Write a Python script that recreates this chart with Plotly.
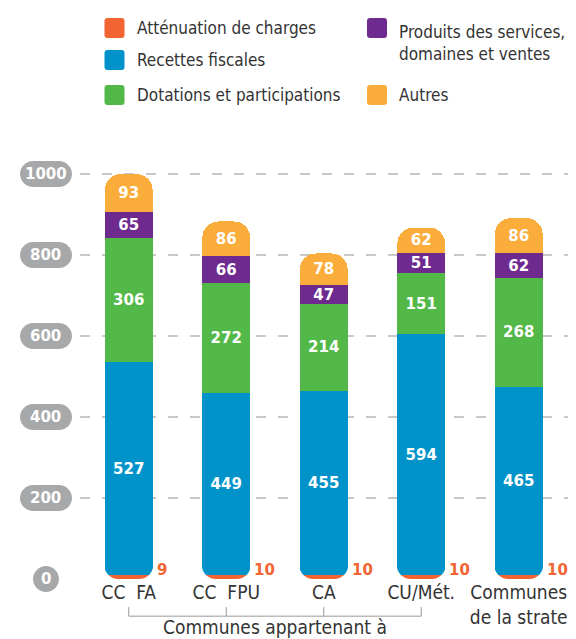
import plotly.graph_objects as go

categories = ["CC\u00a0\u00a0FA", "CC\u00a0\u00a0FPU", "CA", "CU/Mét.", "Communes<br>de la strate"]
attenuation = [9, 10, 10, 10, 10]
recettes = [527, 449, 455, 594, 465]
dotations = [306, 272, 214, 151, 268]
produits = [65, 66, 47, 51, 62]
autres = [93, 86, 78, 62, 86]
tick_vals = [0, 200, 400, 600, 800, 1000]
series_names = ["Atténuation de charges", "Recettes fiscales", "Dotations et participations",
                "Produits des services,<br>domaines et ventes", "Autres"]
bracket_label = "Communes appartenant à"

C_ATT = "#f26532"
C_REC = "#0093c9"
C_DOT = "#52b848"
C_PRO = "#6e2a8e"
C_AUT = "#fbad3c"
colors = [C_ATT, C_REC, C_DOT, C_PRO, C_AUT]

TXT_FONT = "Liberation Sans Narrow, DejaVu Sans Condensed, sans-serif"
NUM_FONT = "DejaVu Sans, sans-serif"
Y_MAX = 1020
X_RANGE = [-0.5, 4.577]
PLOT_H = 413.0
PLOT_W = 495.0

fig = go.Figure()

values = [attenuation, recettes, dotations, produits, autres]
for idx, (name, vals, color) in enumerate(zip(series_names, values, colors)):
    show_text = idx > 0
    fig.add_trace(go.Bar(
        x=categories, y=vals, name=name,
        marker=dict(color=color, line=dict(width=0)),
        text=[str(v) for v in vals] if show_text else None,
        texttemplate="%{text}" if show_text else None,
        textposition="inside" if show_text else "none",
        insidetextanchor="middle",
        textangle=0,
        constraintext="none",
        textfont=dict(family=NUM_FONT, size=15, color="white", weight="bold"),
        showlegend=False,
        hoverinfo="skip",
    ))

# rounded bottom corners of the stacks (white corner masks anchored at each bar base)
w = 24.5
R = 14
k = 0.45
for c in categories:
    left = (f"M{-w-1},0 L{-w-1},{R} L{-w},{R} C{-w},{R*k} {-w+R*k},0 {-w+R},0 Z")
    right = (f"M{w+1},0 L{w+1},{R} L{w},{R} C{w},{R*k} {w-R*k},0 {w-R},0 Z")
    for p in (left, right):
        fig.add_shape(type="path", xref="x", yref="y", xsizemode="pixel", ysizemode="pixel",
                      xanchor=c, yanchor=0, path=p, fillcolor="white",
                      line=dict(width=0), layer="above")

# small value labels for Atténuation, to the right of the bars
for c, v in zip(categories, attenuation):
    fig.add_annotation(x=c, y=0, xref="x", yref="y", text=f"<b>{v}</b>",
                       showarrow=False, xanchor="left", yanchor="bottom",
                       xshift=26, yshift=-2,
                       font=dict(family=NUM_FONT, size=15, color=C_ATT))

# grey pill tick labels
PILL_X = -0.0687
for t in tick_vals:
    half = 13 if t < 10 else 26
    r = 13
    kk = 7
    path = (f"M{-half+r},-13 L{half-r},-13 C{half-r+kk},-13 {half},-{kk} {half},0 "
            f"C{half},{kk} {half-r+kk},13 {half-r},13 L{-half+r},13 "
            f"C{-half+r-kk},13 {-half},{kk} {-half},0 C{-half},-{kk} {-half+r-kk},-13 {-half+r},-13 Z")
    fig.add_shape(type="path", xref="paper", yref="paper", xsizemode="pixel", ysizemode="pixel",
                  xanchor=PILL_X, yanchor=t / Y_MAX, path=path,
                  fillcolor="#a7a8aa", line=dict(width=0), layer="above")
    fig.add_annotation(x=PILL_X, y=t, xref="paper", yref="y", text=f"<b>{t}</b>",
                       showarrow=False, xanchor="center", yanchor="middle",
                       font=dict(family=NUM_FONT, size=15, color="white"))

# legend (two columns), positioned in page pixels converted to paper fractions
def px_x(p):
    return (p - 80) / PLOT_W

def px_y(p):
    return (579 - p) / PLOT_H

legend_pos = [  # (swatch centre x, text left x, swatch centre y, text centre y)
    (114.5, 135, 28, 28),
    (114.5, 135, 60, 60),
    (114.5, 135, 95, 95),
    (377, 397, 28, 42.5),
    (377, 397, 95, 95),
]
sq = 10
for (sx, tx, sy, ty), name, color in zip(legend_pos, series_names, colors):
    sw = (f"M{-sq+3},{-sq} L{sq-3},{-sq} Q{sq},{-sq} {sq},{-sq+3} L{sq},{sq-3} Q{sq},{sq} {sq-3},{sq} "
          f"L{-sq+3},{sq} Q{-sq},{sq} {-sq},{sq-3} L{-sq},{-sq+3} Q{-sq},{-sq} {-sq+3},{-sq} Z")
    fig.add_shape(type="path", xref="paper", yref="paper", xsizemode="pixel", ysizemode="pixel",
                  xanchor=px_x(sx), yanchor=px_y(sy), path=sw, fillcolor=color,
                  line=dict(width=0), layer="above")
    fig.add_annotation(x=px_x(tx), y=px_y(ty), xref="paper", yref="paper", text=name,
                       showarrow=False, xanchor="left", yanchor="middle", align="left",
                       font=dict(family=TXT_FONT, size=17, color="#333333"))

# bracket under the first four categories
by0 = -0.068
by1 = -0.09
fig.add_shape(type="line", xref="x", yref="paper", x0=0, x1=3, y0=by1, y1=by1,
              line=dict(color="#9a9a9a", width=1))
for i in range(4):
    fig.add_shape(type="line", xref="x", yref="paper", x0=i, x1=i, y0=by0, y1=by1,
                  line=dict(color="#9a9a9a", width=1))
fig.add_annotation(x=1.5, y=-0.117, xref="x", yref="paper", text=bracket_label,
                   showarrow=False, xanchor="center", yanchor="middle",
                   font=dict(family=TXT_FONT, size=19, color="#333333"))

fig.update_layout(
    width=568, height=631,
    margin=dict(l=72, r=1, t=158, b=60, autoexpand=False),
    barmode="stack", bargap=0.51, barcornerradius=16,
    plot_bgcolor="white", paper_bgcolor="white",
    font=dict(family=TXT_FONT, color="#333333"),
    showlegend=False,
    xaxis=dict(showline=False, showgrid=False, ticks="", tickfont=dict(family=TXT_FONT, size=19, color="#333333"),
               range=X_RANGE),
    yaxis=dict(range=[0, Y_MAX], tickvals=tick_vals, showticklabels=False, showline=False,
               zeroline=False, showgrid=True, gridcolor="#c8c8c8", gridwidth=1.5,
               griddash="10px,12px"),
)

fig.write_html("out.html")
